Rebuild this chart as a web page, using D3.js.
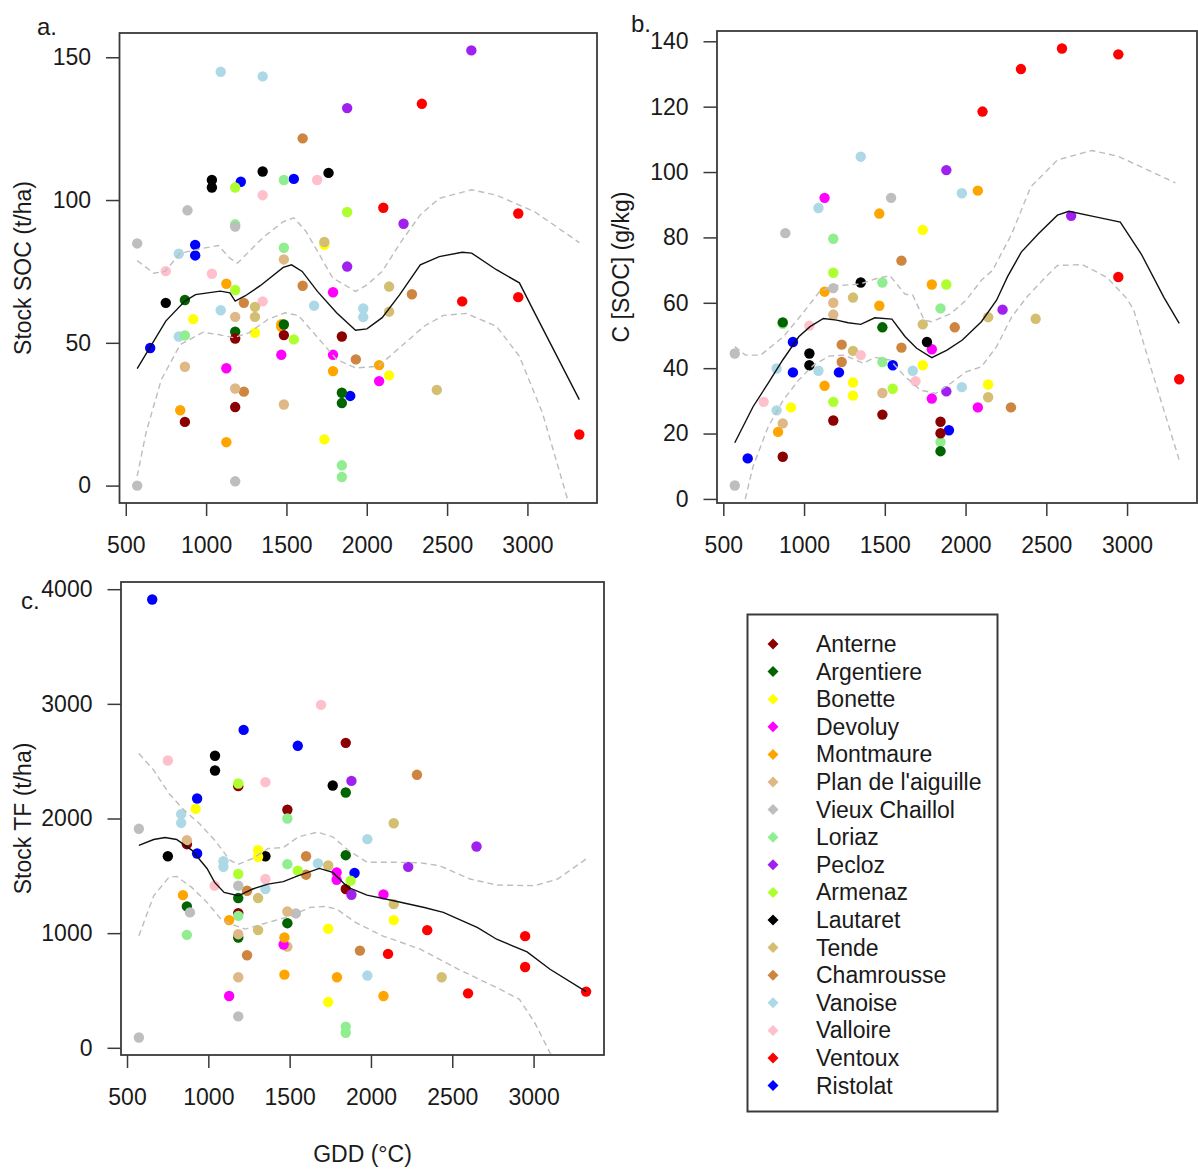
<!DOCTYPE html>
<html>
<head>
<meta charset="utf-8">
<script src="https://cdn.jsdelivr.net/npm/d3@7"></script>
<style>
body { margin: 0; background: #fff; }
svg text { font-family: "Liberation Sans", Arial, sans-serif; fill: #1a1a1a; }
</style>
</head>
<body>
<svg id="fig" width="1198" height="1169"></svg>
<script>
// sites in legend order and their R colours
var sites = ["Anterne", "Argentiere", "Bonette", "Devoluy", "Montmaure", "Plan de l'aiguille",
	"Vieux Chaillol", "Loriaz", "Pecloz", "Armenaz", "Lautaret", "Tende", "Chamrousse",
	"Vanoise", "Valloire", "Ventoux", "Ristolat"];
var siteColors = ["#8B0000", "#006400", "#FFFF00", "#FF00FF", "#FFA500", "#DEB887",
	"#BEBEBE", "#90EE90", "#A020F0", "#ADFF2F", "#000000", "#D3BE72", "#CD853F",
	"#ADD8E6", "#FFC0CB", "#FF0000", "#0000FF"];

var gddTicks = [500, 1000, 1500, 2000, 2500, 3000];
var socStockTicks = [0, 50, 100, 150];
var socConcTicks = [0, 20, 40, 60, 80, 100, 120, 140];
var tfStockTicks = [0, 1000, 2000, 3000, 4000];

// a. stock SOC (t/ha) : [site, GDD, value]
var socStock = [
	["Vanoise",1091,144.9],["Vanoise",1352,143.3],["Vanoise",830,81.2],["Vanoise",830,52.2],["Vanoise",1091,61.4],["Vanoise",1672,63],["Vanoise",1978,62],["Vanoise",1978,59],
	["Pecloz",2651,152.4],["Pecloz",1878,132.2],["Pecloz",2229,91.7],["Pecloz",1878,76.7],
	["Ventoux",2343,133.7],["Ventoux",2103,97.3],["Ventoux",2943,95.3],["Ventoux",2594,64.5],["Ventoux",2943,66],["Ventoux",3323,17.9],
	["Chamrousse",1601,121.6],["Chamrousse",1601,70],["Chamrousse",2281,67],["Chamrousse",1235,64],["Chamrousse",1932,44.2],["Chamrousse",1235,32.9],
	["Lautaret",1036,107],["Lautaret",1036,104.4],["Lautaret",1352,110],["Lautaret",1762,109.5],["Lautaret",749,64],
	["Ristolat",1216,106.4],["Ristolat",1546,107.4],["Ristolat",932,84.3],["Ristolat",932,80.6],["Ristolat",652,48.2],["Ristolat",1897,31.4],
	["Loriaz",1484,107],["Loriaz",1181,91.5],["Loriaz",1484,83.3],["Loriaz",868,52.6],["Loriaz",1845,7.1],["Loriaz",1845,3],
	["Valloire",1691,107],["Valloire",1352,101.7],["Valloire",749,75.1],["Valloire",1036,74.2],["Valloire",1352,64.5],
	["Armenaz",1181,104.4],["Armenaz",1878,95.8],["Armenaz",1181,68.5],["Armenaz",1546,51.2],
	["Vieux Chaillol",884,96.4],["Vieux Chaillol",1181,90.7],["Vieux Chaillol",571,84.8],["Vieux Chaillol",1181,1.5],["Vieux Chaillol",571,0],
	["Bonette",1736,84.3],["Bonette",920,58.3],["Bonette",1304,53.5],["Bonette",2139,38.6],["Bonette",1736,16.2],
	["Tende",1736,85.3],["Tende",2139,69.7],["Tende",1304,62.6],["Tende",1304,59.1],["Tende",2139,60.9],["Tende",2436,33.5],
	["Plan de l'aiguille",1484,79.2],["Plan de l'aiguille",1181,59.1],["Plan de l'aiguille",868,41.6],["Plan de l'aiguille",1181,34],["Plan de l'aiguille",1484,28.4],
	["Montmaure",1126,70.7],["Montmaure",1468,56.5],["Montmaure",1468,55.6],["Montmaure",2077,42.2],["Montmaure",1790,40.1],["Montmaure",839,26.4],["Montmaure",1126,15.2],
	["Devoluy",1790,67.7],["Devoluy",1468,45.8],["Devoluy",1790,45.8],["Devoluy",1126,41.1],["Devoluy",2077,36.6],
	["Argentiere",868,65],["Argentiere",1181,53.9],["Argentiere",1484,56.4],["Argentiere",1845,32.5],["Argentiere",1845,28.9],
	["Anterne",1181,51.5],["Anterne",1484,52.7],["Anterne",1845,52.2],["Anterne",1181,27.5],["Anterne",868,22.3]
];
var socStockFit = [[571,41],[749,57.6],[868,64.6],[934,66.9],[1088,68.1],[1148,67.5],[1181,64.6],[1242,66.4],[1337,70],[1480,76.4],[1532,77.3],[1598,75],[1693,68],[1812,60.5],[1930,54.4],[2001,54.9],[2096,58.8],[2203,66.7],[2333,77.3],[2451,80.2],[2594,81.7],[2653,81.4],[2807,75.6],[2950,71],[3045,60.5],[3323,30.1]];
var socStockHi = [[571,78.8],[673,74.4],[744,75],[839,81.4],[981,83.1],[1076,84.1],[1147,79.7],[1195,77.9],[1361,87.2],[1480,92.4],[1546,93.8],[1622,89],[1717,79.7],[1788,72.7],[1930,68],[2001,70.3],[2096,75],[2215,85.5],[2333,94.8],[2451,100.6],[2653,103.6],[2807,101.7],[3045,95.9],[3323,85.1]];
var socStockLo = [[571,3.3],[626,18.5],[721,37.1],[839,49.4],[981,53.7],[1076,52.9],[1171,51.8],[1266,53.5],[1385,58.2],[1491,60.5],[1574,59.6],[1669,53.5],[1812,44.2],[1930,41.2],[2072,41.8],[2215,48.8],[2357,55.8],[2476,59.6],[2618,60.3],[2807,55.8],[2950,45.3],[3093,25.5],[3251,-5],[3323,-19]];

// b. C [SOC] (g/kg)
var socConc = [
	["Ventoux",2597,137.8],["Ventoux",2946,136],["Ventoux",2343,131.5],["Ventoux",2105,118.5],["Ventoux",2946,67.9],["Ventoux",3323,36.6],
	["Vanoise",1351,104.7],["Vanoise",1977,93.5],["Vanoise",1089,89],["Vanoise",830,39.9],["Vanoise",1089,39.2],["Vanoise",1673,39.2],["Vanoise",1977,34.2],["Vanoise",830,27.1],
	["Pecloz",1881,100.6],["Pecloz",2654,86.6],["Pecloz",2229,57.9],["Pecloz",1881,32.9],
	["Montmaure",2076,94.3],["Montmaure",1466,87.3],["Montmaure",1791,65.6],["Montmaure",1127,63.4],["Montmaure",1466,59.1],["Montmaure",1127,34.6],["Montmaure",839,20.5],
	["Devoluy",1127,92.1],["Devoluy",1791,45.8],["Devoluy",1791,30.7],["Devoluy",2076,28],
	["Vieux Chaillol",1539,92.1],["Vieux Chaillol",884,81.3],["Vieux Chaillol",1181,64.5],["Vieux Chaillol",571,44.5],["Vieux Chaillol",571,4.1],
	["Bonette",1735,82.3],["Bonette",1735,40.9],["Bonette",1303,35.6],["Bonette",2140,35],["Bonette",1303,31.6],["Bonette",919,28],
	["Loriaz",1181,79.6],["Loriaz",1485,66.2],["Loriaz",1845,58.3],["Loriaz",868,53.6],["Loriaz",1485,41.9],["Loriaz",1845,17.4],
	["Chamrousse",1603,72.9],["Chamrousse",1933,52.5],["Chamrousse",1603,46.3],["Chamrousse",1233,47.2],["Chamrousse",1233,41.9],["Chamrousse",2281,28],
	["Armenaz",1181,69.2],["Armenaz",1881,65.6],["Armenaz",1549,33.7],["Armenaz",1181,29.7],
	["Lautaret",1351,66.2],["Lautaret",1761,48],["Lautaret",1033,44.5],["Lautaret",1033,40.9],
	["Tende",1303,61.6],["Tende",2140,55.6],["Tende",2434,55.1],["Tende",1735,53.4],["Tende",1303,45.3],["Tende",2140,31.1],
	["Plan de l'aiguille",1181,60],["Plan de l'aiguille",1181,56.4],["Plan de l'aiguille",1485,32.4],["Plan de l'aiguille",868,23.1],
	["Argentiere",868,54],["Argentiere",1485,52.5],["Argentiere",1845,14.6],
	["Valloire",1033,53],["Valloire",1351,44],["Valloire",1690,36],["Valloire",750,29.7],
	["Ristolat",931,48],["Ristolat",1549,40.9],["Ristolat",931,38.7],["Ristolat",1216,38.7],["Ristolat",1897,21],["Ristolat",651,12.4],
	["Anterne",1485,25.8],["Anterne",1181,24],["Anterne",1845,23.6],["Anterne",1845,20.1],["Anterne",868,12.9]
];
var socConcFit = [[571,17.2],[684,28.2],[778,35.4],[868,42.5],[967,49.6],[1037,52.7],[1120,55.2],[1202,54.7],[1273,53.9],[1351,53.4],[1438,55.4],[1544,55],[1626,49.6],[1697,46.1],[1791,43.2],[1885,45.5],[1980,48.6],[2098,54.2],[2192,60.8],[2260,68],[2345,75.5],[2451,81.1],[2569,86.8],[2640,88],[2805,86.3],[2958,84.7],[3087,75],[3229,61.6],[3323,53.7]];
var socConcHi = [[571,46.6],[637,44],[731,44],[872,49.6],[990,56.7],[1096,63.4],[1178,65.2],[1343,65.7],[1461,67.6],[1532,68.3],[1626,62.6],[1673,62.4],[1744,54.7],[1791,54.2],[1909,56.7],[2003,60.8],[2098,66.9],[2168,70],[2286,81.1],[2404,95.5],[2569,103.7],[2781,106.6],[2946,104.8],[3299,96.7]];
var socConcLo = [[571,-15],[632,-0.8],[684,9.9],[778,22.1],[872,30.3],[967,36.4],[1061,41],[1155,43.7],[1249,44],[1367,41.5],[1438,43.3],[1532,42.5],[1626,37.4],[1721,33.3],[1815,32.3],[1909,35.4],[2003,38.9],[2098,40.4],[2192,46.6],[2286,55.7],[2380,61.8],[2498,68],[2569,71.4],[2722,71.7],[2875,67.8],[2993,61.6],[3040,58],[3158,38.4],[3323,11.9]];

// c. stock TF (t/ha)
var tfStock = [
	["Ristolat",655,3910],["Ristolat",1217,2773],["Ristolat",1550,2634],["Ristolat",931,2174],["Ristolat",931,1695],["Ristolat",1899,1525],
	["Valloire",1693,2991],["Valloire",751,2506],["Valloire",1351,2317],["Valloire",1351,1472],["Valloire",1039,1414],
	["Anterne",1845,2660],["Anterne",1184,2282],["Anterne",1486,2076],["Anterne",868,1776],["Anterne",1845,1385],["Anterne",1184,1175],
	["Lautaret",1041,2547],["Lautaret",1041,2419],["Lautaret",1765,2288],["Lautaret",751,1671],["Lautaret",1351,1671],
	["Chamrousse",2283,2381],["Chamrousse",1601,1671],["Chamrousse",1601,1510],["Chamrousse",1238,1370],["Chamrousse",1932,848],["Chamrousse",1238,807],
	["Pecloz",1880,2328],["Pecloz",2649,1756],["Pecloz",2229,1578],["Pecloz",1880,1335],
	["Armenaz",1184,2305],["Armenaz",1550,1545],["Armenaz",1184,1516],["Armenaz",1875,1458],
	["Argentiere",1845,2227],["Argentiere",1845,1680],["Argentiere",1184,1306],["Argentiere",868,1233],["Argentiere",1486,1087],["Argentiere",1184,962],
	["Bonette",922,2084],["Bonette",1306,1724],["Bonette",1306,1666],["Bonette",2140,1114],["Bonette",1737,1038],["Bonette",1737,399],
	["Loriaz",1486,2000],["Loriaz",1486,1602],["Loriaz",1184,1151],["Loriaz",868,985],["Loriaz",1845,184],["Loriaz",1845,131],
	["Vanoise",833,2038],["Vanoise",833,1962],["Vanoise",1978,1820],["Vanoise",1093,1628],["Vanoise",1093,1579],["Vanoise",1674,1608],["Vanoise",1351,1385],["Vanoise",1978,630],
	["Tende",2140,1959],["Tende",1737,1590],["Tende",1306,1306],["Tende",2140,1253],["Tende",1306,1026],["Tende",2435,615],
	["Vieux Chaillol",573,1910],["Vieux Chaillol",1184,1414],["Vieux Chaillol",887,1181],["Vieux Chaillol",1538,1172],["Vieux Chaillol",1184,274],["Vieux Chaillol",573,90],
	["Plan de l'aiguille",868,1811],["Plan de l'aiguille",1486,1189],["Plan de l'aiguille",1184,991],["Plan de l'aiguille",1486,883],["Plan de l'aiguille",1184,615],
	["Devoluy",1789,1530],["Devoluy",1789,1466],["Devoluy",2077,1338],["Devoluy",1463,901],["Devoluy",1128,452],
	["Montmaure",844,1332],["Montmaure",1128,1114],["Montmaure",1468,962],["Montmaure",1468,638],["Montmaure",1791,615],["Montmaure",2077,452],
	["Ventoux",2346,1026],["Ventoux",2948,974],["Ventoux",2105,819],["Ventoux",2948,705],["Ventoux",2597,475],["Ventoux",3323,490]
];
var tfStockFit = [[573,1765],[664,1817],[734,1834],[805,1817],[898,1724],[992,1564],[1039,1443],[1097,1355],[1184,1326],[1273,1385],[1367,1428],[1461,1449],[1554,1501],[1683,1565],[1765,1530],[1859,1399],[1976,1332],[2140,1283],[2328,1224],[2445,1181],[2656,1049],[2773,947],[2960,837],[3101,685],[3323,490]];
var tfStockHi = [[573,2567],[664,2422],[758,2218],[851,2073],[945,1956],[1039,1811],[1133,1637],[1180,1599],[1273,1651],[1367,1738],[1461,1747],[1554,1840],[1671,1881],[1765,1840],[1859,1724],[1976,1619],[2140,1619],[2304,1613],[2421,1589],[2609,1472],[2773,1420],[3007,1414],[3148,1472],[3323,1647]];
var tfStockLo = [[573,977],[664,1326],[758,1487],[805,1495],[898,1399],[992,1268],[1086,1108],[1226,1035],[1367,1093],[1508,1151],[1625,1224],[1718,1233],[1789,1210],[1906,1093],[2070,977],[2304,860],[2538,685],[2773,525],[2913,423],[3007,219],[3101,-44],[3200,-300]];

var svg = d3.select("#fig");
svg.append("rect").attr("width", 1198).attr("height", 1169).attr("fill", "#fff");

var color = d3.scaleOrdinal().domain(sites).range(siteColors);

// R style range: data extent plus 4% on each side
function padded(ext) {
	var d = (ext[1] - ext[0]) * 0.04;
	return [ext[0] - d, ext[1] + d];
}

function drawPanel(cfg) {
	var b = cfg.box;
	var x = d3.scaleLinear()
		.domain(padded(d3.extent(cfg.data, function(d) { return d[1]; })))
		.range([b.left, b.right]);
	var y = d3.scaleLinear()
		.domain(padded(d3.extent(cfg.data, function(d) { return d[2]; })))
		.range([b.bottom, b.top]);

	var clipId = "clip-" + cfg.id;
	svg.append("clipPath").attr("id", clipId)
		.append("rect")
		.attr("x", b.left).attr("y", b.top)
		.attr("width", b.right - b.left).attr("height", b.bottom - b.top);

	var g = svg.append("g").attr("class", "panel");

	g.append("g").attr("clip-path", "url(#" + clipId + ")")
		.selectAll("circle")
		.data(cfg.data)
		.enter().append("circle")
		.attr("cx", function(d) { return x(d[1]); })
		.attr("cy", function(d) { return y(d[2]); })
		.attr("r", 5.2)
		.attr("fill", function(d) { return color(d[0]); });

	var line = d3.line()
		.x(function(d) { return x(d[0]); })
		.y(function(d) { return y(d[1]); });

	var lines = g.append("g").attr("clip-path", "url(#" + clipId + ")").attr("fill", "none");
	[cfg.hi, cfg.lo].forEach(function(band) {
		lines.append("path")
			.attr("d", line(band))
			.attr("stroke", "#bdbdbd")
			.attr("stroke-width", 1.4)
			.attr("stroke-dasharray", "6,4");
	});
	lines.append("path")
		.attr("d", line(cfg.fit))
		.attr("stroke", "#111")
		.attr("stroke-width", 1.4);

	var xAxis = d3.axisBottom(x).tickValues(gddTicks).tickFormat(d3.format("d"))
		.tickSize(13).tickPadding(21).tickSizeOuter(0);
	var yAxis = d3.axisLeft(y).tickValues(cfg.yTicks).tickFormat(d3.format("d"))
		.tickSize(13.5).tickPadding(15).tickSizeOuter(0);

	g.append("g")
		.attr("transform", "translate(0," + b.bottom + ")")
		.call(xAxis)
		.call(styleAxis);
	g.append("g")
		.attr("transform", "translate(" + b.left + ",0)")
		.call(yAxis)
		.call(styleAxis);

	g.append("rect")
		.attr("x", b.left).attr("y", b.top)
		.attr("width", b.right - b.left).attr("height", b.bottom - b.top)
		.attr("fill", "none")
		.attr("stroke", "#3a3a3a")
		.attr("stroke-width", 1.8);

	g.append("text")
		.attr("transform", "translate(" + cfg.titleX + "," + ((b.top + b.bottom) / 2) + ") rotate(-90)")
		.attr("text-anchor", "middle")
		.attr("font-size", 23)
		.text(cfg.yTitle);

	g.append("text")
		.attr("x", cfg.tagX).attr("y", cfg.tagY)
		.attr("font-size", 24)
		.text(cfg.tag);

	if (cfg.xTitle) {
		g.append("text")
			.attr("x", (b.left + b.right) / 2).attr("y", 1162)
			.attr("text-anchor", "middle")
			.attr("font-size", 23)
			.text(cfg.xTitle);
	}
}

function styleAxis(sel) {
	sel.select(".domain").remove();
	sel.attr("font-size", 23).attr("font-family", "Liberation Sans, Arial, sans-serif");
	sel.selectAll(".tick line").attr("stroke", "#3a3a3a").attr("stroke-width", 1.5);
	sel.selectAll(".tick text").attr("fill", "#1a1a1a");
}

drawPanel({
	id: "a", data: socStock, fit: socStockFit, hi: socStockHi, lo: socStockLo,
	yTicks: socStockTicks, box: {left: 119.5, top: 33, right: 597, bottom: 503},
	yTitle: "Stock SOC (t/ha)", titleX: 31, tag: "a.", tagX: 37, tagY: 35
});
drawPanel({
	id: "b", data: socConc, fit: socConcFit, hi: socConcHi, lo: socConcLo,
	yTicks: socConcTicks, box: {left: 717, top: 31, right: 1197, bottom: 503},
	yTitle: "C [SOC] (g/kg)", titleX: 629, tag: "b.", tagX: 631, tagY: 32
});
drawPanel({
	id: "c", data: tfStock, fit: tfStockFit, hi: tfStockHi, lo: tfStockLo,
	yTicks: tfStockTicks, box: {left: 121, top: 582, right: 604, bottom: 1055},
	yTitle: "Stock TF (t/ha)", titleX: 31, tag: "c.", tagX: 21, tagY: 609,
	xTitle: "GDD (\u00B0C)"
});

// legend
var legend = svg.append("g").attr("class", "legend");
legend.append("rect")
	.attr("x", 747.5).attr("y", 614.5)
	.attr("width", 250).attr("height", 497)
	.attr("fill", "#fff")
	.attr("stroke", "#3a3a3a")
	.attr("stroke-width", 2);

var item = legend.selectAll(".item")
	.data(sites)
	.enter().append("g")
	.attr("class", "item")
	.attr("transform", function(d, i) { return "translate(773," + (644 + i * 27.6) + ")"; });

item.append("path")
	.attr("d", "M0,-5.5L5.5,0L0,5.5L-5.5,0Z")
	.attr("fill", function(d) { return color(d); });

item.append("text")
	.attr("x", 43)
	.attr("dy", "0.35em")
	.attr("font-size", 23)
	.text(function(d) { return d; });
</script>
</body>
</html>
